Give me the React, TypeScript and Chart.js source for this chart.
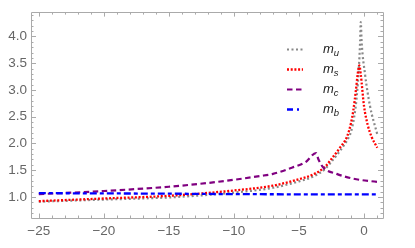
import React, { useEffect, useRef } from "react";
import { Chart, registerables } from "chart.js";

Chart.register(...registerables);

// ---- data ----
const muX = [-25, -20, -15, -10, -7, -5, -4, -3, -2.6, -1.85, -1.3, -1.0, -0.75, -0.55, -0.4, -0.3, -0.25, -0.18, 0.08, 0.46, 1.02];
const muY = [0.91, 0.95, 0.99, 1.08, 1.17, 1.29, 1.37, 1.52, 1.63, 1.86, 2.06, 2.22, 2.5, 2.9, 3.4, 3.9, 4.27, 3.89, 3.29, 2.7, 2.17];

const msX = [-25, -20, -15, -10, -7, -5, -4, -3, -2.6, -1.85, -1.3, -1.0, -0.82, -0.62, -0.49, -0.36, -0.25, 0, 0.28, 0.59, 1.02];
const msY = [0.92, 0.97, 1.02, 1.12, 1.21, 1.33, 1.41, 1.56, 1.68, 1.92, 2.13, 2.38, 2.62, 3.0, 3.29, 3.46, 3.29, 2.7, 2.35, 2.12, 1.92];

const mcX = [-25, -20, -15, -12, -10, -8, -7, -5.5, -4.5, -3.69, -3.5, -3.13, -2.1, -0.82, 1.0];
const mcY = [1.05, 1.11, 1.19, 1.26, 1.32, 1.39, 1.43, 1.55, 1.65, 1.82, 1.7, 1.55, 1.43, 1.34, 1.28];

const mbX = [-25, -20, -15, -10, -5, 0, 1];
const mbY = [1.07, 1.065, 1.06, 1.052, 1.048, 1.046, 1.045];

const seriesNames = ["u", "s", "c", "b"];
const xTicks = [-25, -20, -15, -10, -5, 0];
const yTicks = [1.0, 1.5, 2.0, 2.5, 3.0, 3.5, 4.0];

const X_MIN = -25.6;
const X_MAX = 1.46;
const Y_MIN = 0.605;
const Y_MAX = 4.456;

const styles = [
  { color: "#888888", width: 2.2, dash: [2, 2.5] },
  { color: "#ff0000", width: 2.3, dash: [2, 1.7] },
  { color: "#800080", width: 2.2, dash: [5.5, 3.5] },
  { color: "#0000ff", width: 2.3, dash: [7, 3, 4, 3] },
];

const pts = (xs: number[], ys: number[]) => xs.map((x, i) => ({ x, y: ys[i] }));

const frameColor = "#aaaaaa";

const framePlugin = {
  id: "mmaFrame",
  afterDatasetsDraw(chart: any) {
    const { ctx, chartArea } = chart;
    const { left, right, top, bottom } = chartArea;
    const xs = chart.scales.x;
    const ys = chart.scales.y;
    ctx.save();
    ctx.strokeStyle = frameColor;
    ctx.lineWidth = 1;
    ctx.setLineDash([]);
    ctx.beginPath();
    ctx.rect(Math.round(left) + 0.5, Math.round(top) + 0.5, Math.round(right - left), Math.round(bottom - top));
    ctx.stroke();
    // x ticks (bottom & top)
    for (let v = -25; v <= 1; v += 1) {
      const px = Math.round(xs.getPixelForValue(v)) + 0.5;
      const len = v % 5 === 0 ? 4.5 : 2.5;
      ctx.beginPath();
      ctx.moveTo(px, bottom);
      ctx.lineTo(px, bottom - len);
      ctx.moveTo(px, top);
      ctx.lineTo(px, top + len);
      ctx.stroke();
    }
    // y ticks (left & right)
    for (let k = 7; k <= 44; k++) {
      const v = k / 10;
      const py = Math.round(ys.getPixelForValue(v)) + 0.5;
      const len = k % 5 === 0 ? 5 : 2.5;
      ctx.beginPath();
      ctx.moveTo(left, py);
      ctx.lineTo(left + len, py);
      ctx.moveTo(right, py);
      ctx.lineTo(right - len, py);
      ctx.stroke();
    }
    // legend
    const rows = [49.5, 69.5, 89.5, 109.5];
    for (let i = 0; i < 4; i++) {
      const st = styles[i];
      const y = rows[i];
      ctx.strokeStyle = st.color;
      ctx.lineWidth = st.width;
      ctx.setLineDash(i === 3 ? [6, 4, 2, 4] : st.dash);
      ctx.beginPath();
      ctx.moveTo(287, y);
      ctx.lineTo(303, y);
      ctx.stroke();
      ctx.setLineDash([]);
      ctx.fillStyle = "#222";
      ctx.textBaseline = "alphabetic";
      ctx.textAlign = "left";
      ctx.font = "italic 13px 'Liberation Sans', Arial, sans-serif";
      ctx.fillText("m", 323, y + 3);
      const w = ctx.measureText("m").width;
      ctx.font = "italic 9.5px 'Liberation Sans', Arial, sans-serif";
      ctx.fillText(seriesNames[i], 323 + w, y + 6);
    }
    ctx.restore();
  },
};

export default function App() {
  const ref = useRef<HTMLCanvasElement>(null);
  useEffect(() => {
    document.body.style.margin = "0";
    const data = [pts(muX, muY), pts(msX, msY), pts(mcX, mcY), pts(mbX, mbY)];
    const chart = new Chart(ref.current!, {
      type: "line",
      data: {
        datasets: data.map((d, i) => ({
          label: "m" + seriesNames[i],
          data: d,
          borderColor: styles[i].color,
          borderWidth: styles[i].width,
          borderDash: styles[i].dash,
          pointRadius: 0,
          fill: false,
          cubicInterpolationMode: "monotone" as const,
          order: 4 - i,
        })),
      },
      options: {
        responsive: false,
        animation: false,
        layout: { padding: { top: 1, right: 32, left: 0, bottom: 0 } },
        plugins: { legend: { display: false }, tooltip: { enabled: false } },
        scales: {
          x: {
            type: "linear",
            min: X_MIN,
            max: X_MAX,
            grid: { display: false, drawTicks: false },
            border: { display: false },
            afterBuildTicks: (s: any) => {
              s.ticks = xTicks.map((v) => ({ value: v }));
            },
            afterFit: (s: any) => {
              s.height = 30;
            },
            ticks: {
              padding: 5,
              color: "#666",
              font: { size: 13.5, family: "'Liberation Sans', Arial, sans-serif" },
              maxRotation: 0,
              autoSkip: false,
              callback: (v: any) => (v < 0 ? "\u2212" + Math.abs(v) : String(v)),
            },
          },
          y: {
            type: "linear",
            min: Y_MIN,
            max: Y_MAX,
            grid: { display: false, drawTicks: false },
            border: { display: false },
            afterBuildTicks: (s: any) => {
              s.ticks = yTicks.map((v) => ({ value: v }));
            },
            afterFit: (s: any) => {
              s.width = 31;
            },
            ticks: {
              padding: 4,
              color: "#666",
              font: { size: 13.5, family: "'Liberation Sans', Arial, sans-serif" },
              autoSkip: false,
              callback: (v: any) => Number(v).toFixed(1),
            },
          },
        },
      },
      plugins: [framePlugin],
    });
    return () => chart.destroy();
  }, []);
  return <canvas ref={ref} width={415} height={248} style={{ display: "block", width: 415, height: 248 }} />;
}
